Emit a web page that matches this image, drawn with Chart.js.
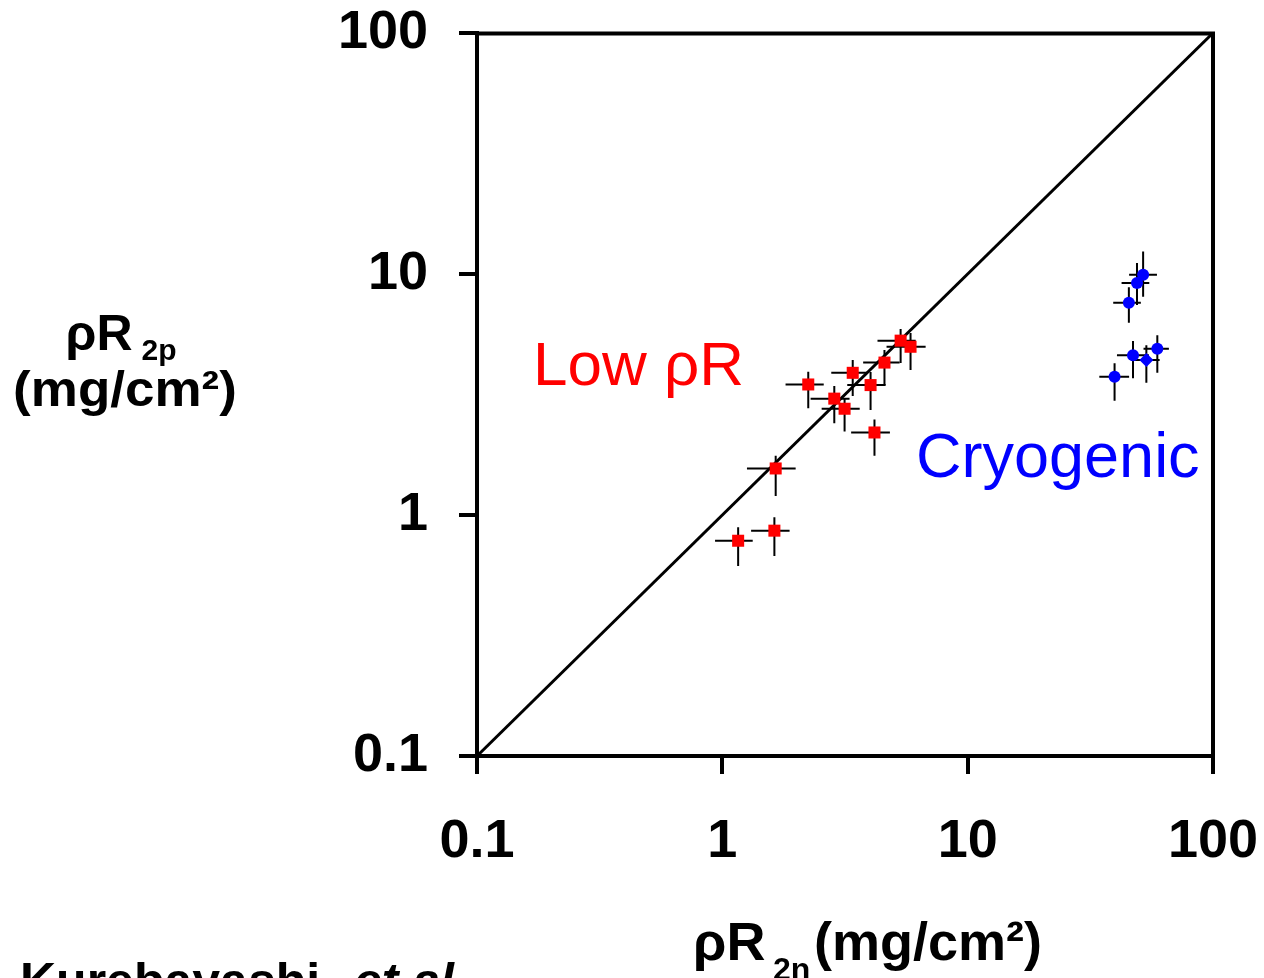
<!DOCTYPE html>
<html>
<head>
<meta charset="utf-8">
<title>ρR 2p vs ρR 2n</title>
<script src="https://cdn.jsdelivr.net/npm/chart.js@4.4.1/dist/chart.umd.min.js"></script>
<style>
  html, body { margin: 0; padding: 0; background: #fff; }
  #wrap { position: relative; width: 1264px; height: 978px; }
</style>
</head>
<body>
<div id="wrap"><canvas id="chart"></canvas></div>
<script>
/* ---------- data ---------- */
const tickValues = [0.1, 1, 10, 100];
const tickLabels = ['0.1', '1', '10', '100'];

// Low ρR shots — red squares
const lowX   = [5.33, 5.85, 4.58, 3.40, 4.02, 2.24, 2.86, 3.15, 4.17, 1.65, 1.63, 1.16];
const lowY   = [5.29, 4.99, 4.29, 3.89, 3.46, 3.48, 3.04, 2.76, 2.20, 1.56, 0.861, 0.782];
const lowXLo = [4.29, 4.67, 3.75, 2.78, 3.23, 1.81, 2.29, 2.54, 3.35, 1.26, 1.31, 0.934];
const lowXHi = [6.14, 6.74, 5.28, 3.91, 4.63, 2.59, 3.30, 3.63, 4.82, 1.99, 1.88, 1.33];
const lowYLo = [4.27, 4.00, 3.46, 3.12, 2.73, 2.77, 2.40, 2.22, 1.76, 1.20, 0.676, 0.614];
const lowYHi = [5.91, 5.69, 4.84, 4.40, 3.92, 3.93, 3.43, 3.05, 2.49, 1.76, 0.978, 0.889];

// Cryogenic shots — blue circles (one diamond)
const cryoX     = [51.9, 49.0, 45.4, 47.2, 53.5, 59.3, 39.7];
const cryoY     = [9.93, 9.18, 7.60, 4.60, 4.40, 4.90, 3.75];
const cryoXLo   = [45.5, 42.4, 39.2, 40.6, 46.3, 52.1, 34.4];
const cryoXHi   = [59.1, 55.0, 50.8, 54.8, 60.6, 66.1, 45.5];
const cryoYLo   = [8.05, 7.44, 6.28, 3.69, 3.54, 3.89, 2.98];
const cryoYHi   = [12.4, 11.1, 8.81, 5.27, 5.06, 5.57, 4.26];
const cryoShape = ['circle', 'circle', 'circle', 'circle', 'rectRot', 'circle', 'circle'];

// y = x reference line
const diagX = [0.1, 100];
const diagY = [0.1, 100];

/* ---------- helpers ---------- */
const FONT = "'Liberation Sans', Arial, Helvetica, sans-serif";
const pts = (xs, ys) => xs.map((v, i) => ({ x: v, y: ys[i] }));

function putText(ctx, str, x, y, font, color, sx = 1, sy = 1) {
  ctx.save();
  ctx.translate(x, y);
  ctx.scale(sx, sy);
  ctx.font = font;
  ctx.fillStyle = color;
  ctx.textAlign = 'left';
  ctx.textBaseline = 'alphabetic';
  ctx.fillText(str, 0, 0);
  const w = ctx.measureText(str).width * sx;
  ctx.restore();
  return w;
}
function textW(ctx, str, font) {
  ctx.save(); ctx.font = font;
  const w = ctx.measureText(str).width;
  ctx.restore();
  return w;
}

/* error bars go under the markers */
const errorBars = {
  id: 'errorBars',
  beforeDatasetsDraw(chart) {
    const { ctx, scales: { x, y } } = chart;
    ctx.save();
    ctx.strokeStyle = '#000';
    ctx.lineWidth = 2;
    chart.data.datasets.forEach(ds => {
      const e = ds.errors;
      if (!e) return;
      ds.data.forEach((p, i) => {
        const px = x.getPixelForValue(p.x), py = y.getPixelForValue(p.y);
        ctx.beginPath();
        ctx.moveTo(x.getPixelForValue(e.xLo[i]), py);
        ctx.lineTo(x.getPixelForValue(e.xHi[i]), py);
        ctx.moveTo(px, y.getPixelForValue(e.yHi[i]));
        ctx.lineTo(px, y.getPixelForValue(e.yLo[i]));
        ctx.stroke();
      });
    });
    ctx.restore();
  }
};

/* top + right frame lines, titles and labels */
const decor = {
  id: 'decor',
  afterDraw(chart) {
    const { ctx, chartArea: a } = chart;
    ctx.save();
    ctx.strokeStyle = '#000';
    ctx.lineWidth = 4;
    ctx.lineJoin = 'miter';
    ctx.beginPath();
    ctx.moveTo(a.left, a.top + 0.5);
    ctx.lineTo(a.right, a.top + 0.5);
    ctx.lineTo(a.right, a.bottom);
    ctx.stroke();
    ctx.restore();

    // y title
    const bigL = `bold 50px ${FONT}`, subL = `bold 30px ${FONT}`;
    const w1 = textW(ctx, 'ρR', bigL), w2 = textW(ctx, '2p', subL);
    const sx = 121 - (w1 + 9 + w2) / 2;
    putText(ctx, 'ρR', sx, 350, bigL, '#000');
    putText(ctx, '2p', sx + w1 + 9, 360, subL, '#000');
    const yUnitFont = `bold 50px ${FONT}`;
    putText(ctx, '(mg/cm²)', 125 - textW(ctx, '(mg/cm²)', yUnitFont) * 1.06 / 2, 406, yUnitFont, '#000', 1.06, 1);

    // x title
    const bigX = `bold 54px ${FONT}`, subX = `bold 32px ${FONT}`;
    putText(ctx, 'ρR', 693, 960, bigX, '#000');
    putText(ctx, '2n', 773, 980, subX, '#000');
    putText(ctx, '(mg/cm²)', 814, 960, bigX, '#000');

    // group labels
    putText(ctx, 'Low ρR', 533, 385, `62px ${FONT}`, '#ff0000');
    putText(ctx, 'Cryogenic', 916, 477, `63px ${FONT}`, '#0000ff');

    // credit, cut off by the bottom edge
    const cf = `bold 50px ${FONT}`;
    const cw = putText(ctx, 'Kurebayashi, ', 20, 998, cf, '#000');
    putText(ctx, 'et al.', 20 + cw + 6, 998, `italic bold 50px ${FONT}`, '#000');
  }
};

/* ---------- chart ---------- */
Chart.defaults.font.family = FONT;
Chart.defaults.color = '#000';

const axisCommon = {
  type: 'logarithmic',
  min: 0.1,
  max: 100,
  afterBuildTicks: s => { s.ticks = tickValues.map(v => ({ value: v })); },
  ticks: {
    font: { size: 54, weight: 'bold', lineHeight: 1.2 },
    color: '#000',
    autoSkip: false,
    maxRotation: 0,
    callback: v => tickLabels[tickValues.indexOf(v)] ?? ''
  },
  grid: { drawOnChartArea: false, drawTicks: true, tickLength: 18, lineWidth: 4, color: '#000' },
  border: { display: true, color: '#000', width: 4 }
};

new Chart(document.getElementById('chart'), {
  type: 'scatter',
  data: {
    datasets: [
      {
        label: 'Low ρR',
        data: pts(lowX, lowY),
        errors: { xLo: lowXLo, xHi: lowXHi, yLo: lowYLo, yHi: lowYHi },
        pointStyle: 'rect',
        pointRadius: 8.5,
        backgroundColor: '#ff0000',
        borderColor: '#ff0000',
        pointBorderWidth: 0,
        order: 0
      },
      {
        label: 'Cryogenic',
        data: pts(cryoX, cryoY),
        errors: { xLo: cryoXLo, xHi: cryoXHi, yLo: cryoYLo, yHi: cryoYHi },
        pointStyle: cryoShape,
        pointRadius: cryoShape.map(s => s === 'rectRot' ? 7 : 6),
        backgroundColor: '#0000ff',
        borderColor: '#0000ff',
        pointBorderWidth: 0,
        order: 0
      },
      {
        label: 'y = x',
        data: pts(diagX, diagY),
        showLine: true,
        borderColor: '#000',
        borderWidth: 3,
        pointRadius: 0,
        order: 2
      }
    ]
  },
  options: {
    responsive: true,
    maintainAspectRatio: false,
    animation: false,
    layout: { padding: { left: 0, top: 33, right: 51, bottom: 0 } },
    plugins: { legend: { display: false }, tooltip: { enabled: false } },
    scales: {
      x: { ...axisCommon, position: 'bottom', ticks: { ...axisCommon.ticks, padding: 36 },
           afterFit: s => { s.height = 222; s.paddingLeft = 0; s.paddingRight = 0; } },
      y: { ...axisCommon, position: 'left', ticks: { ...axisCommon.ticks, padding: 31 },
           afterFit: s => { s.width = 477; s.paddingTop = 0; s.paddingBottom = 0; } }
    }
  },
  plugins: [errorBars, decor]
});
</script>
</body>
</html>
